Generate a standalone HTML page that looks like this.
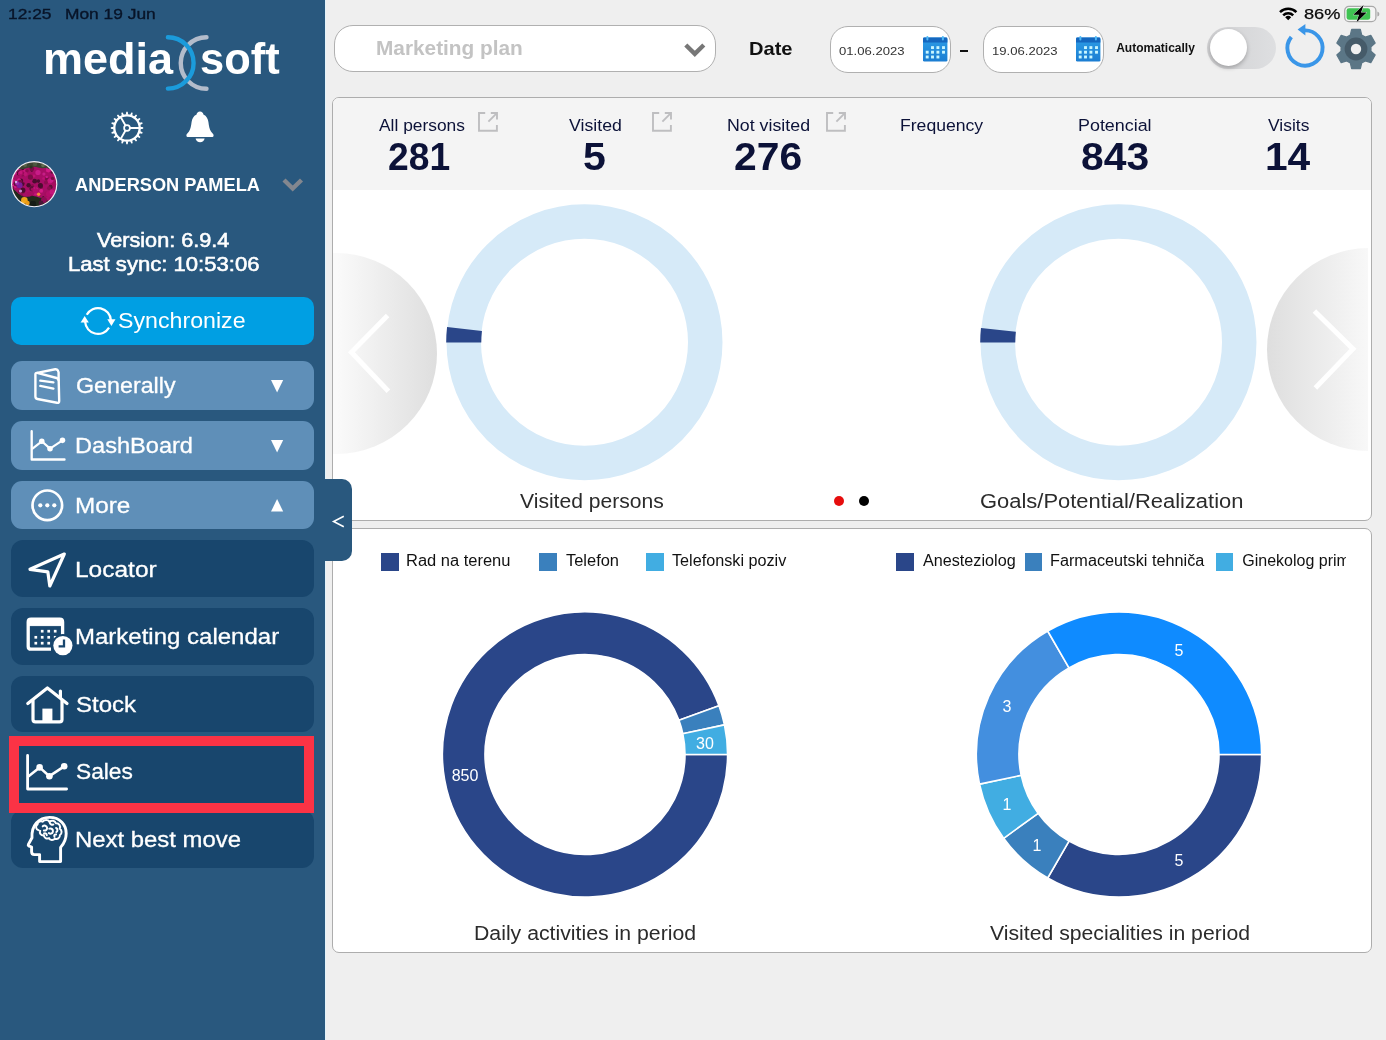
<!DOCTYPE html>
<html lang="en"><head><meta charset="utf-8"><title>mediasoft dashboard</title>
<style>
*{margin:0;padding:0;box-sizing:border-box}
html,body{width:1386px;height:1040px;overflow:hidden;background:#efefef;font-family:"Liberation Sans",sans-serif}
.t{position:absolute;white-space:nowrap;line-height:normal;display:block;transform-origin:0 0}
.b{position:absolute;display:block}
svg{position:absolute;overflow:visible}

</style></head>
<body>
<div class="b" style="left:0px;top:0px;width:325.0px;height:1040.0px;background:#29587e"></div>
<div class="b" style="left:325px;top:0px;width:1.3px;height:1040.0px;background:#e2f2fa"></div>
<span class="t" style="left:7.5px;top:5.2px;font-size:15px;color:#081428;transform:scaleX(1.157);-webkit-text-stroke:0.35px #081428;">12:25</span>
<span class="t" style="left:64.9px;top:5.2px;font-size:15px;color:#081428;transform:scaleX(1.157);-webkit-text-stroke:0.35px #081428;">Mon 19 Jun</span>
<span class="t" style="left:42.6px;top:34.0px;font-size:44px;color:#fff;font-weight:700;transform:scaleX(1.023);">media</span>
<span class="t" style="left:199.9px;top:34.0px;font-size:44px;color:#fff;font-weight:700;transform:scaleX(0.987);">soft</span>
<svg style="left:160px;top:30px" width="56" height="64" viewBox="0 0 56 64"><path d="M46.5 7.3 A25.7 25.7 0 0 0 46.5 58.8" fill="none" stroke="#b3bccb" stroke-width="4.4" stroke-linecap="round"/><path d="M7.9 7.2 A25.7 25.7 0 0 1 7.9 58.6" fill="none" stroke="#1b9bdb" stroke-width="4.4" stroke-linecap="round"/></svg>
<span class="t" style="left:74.5px;top:173.5px;font-size:19px;color:#fff;font-weight:700;transform:scaleX(0.959);">ANDERSON PAMELA</span>
<span class="t" style="left:96.6px;top:229.9px;font-size:19.3px;color:#fff;transform:scaleX(1.122);-webkit-text-stroke:0.55px #fff;">Version: 6.9.4</span>
<span class="t" style="left:68.4px;top:253.5px;font-size:19.3px;color:#fff;transform:scaleX(1.145);-webkit-text-stroke:0.55px #fff;">Last sync: 10:53:06</span>
<svg style="left:282px;top:178px" width="22" height="14" viewBox="0 0 22 14"><path d="M2 2 L10.7 10.5 L19.5 2" fill="none" stroke="#83878f" stroke-width="4.4" /></svg>
<div class="b" style="left:10.8px;top:296.5px;width:303.4px;height:48.7px;background:#009fe3;border-radius:10px"></div>
<span class="t" style="left:117.9px;top:307.7px;font-size:22px;color:#fff;transform:scaleX(1.054);">Synchronize</span>
<div class="b" style="left:11px;top:361.2px;width:303.0px;height:48.9px;background:#5f8fb8;border-radius:11px"></div>
<span class="t" style="left:75.5px;top:373.3px;font-size:22px;color:#fff;transform:scaleX(1.057);-webkit-text-stroke:0.3px #fff;">Generally</span>
<div class="b" style="left:11px;top:421px;width:303.0px;height:48.7px;background:#5f8fb8;border-radius:11px"></div>
<span class="t" style="left:74.8px;top:433.1px;font-size:22px;color:#fff;transform:scaleX(1.072);-webkit-text-stroke:0.3px #fff;">DashBoard</span>
<div class="b" style="left:11px;top:480.6px;width:303.0px;height:48.9px;background:#5f8fb8;border-radius:11px"></div>
<span class="t" style="left:74.8px;top:492.5px;font-size:22px;color:#fff;transform:scaleX(1.104);-webkit-text-stroke:0.3px #fff;">More</span>
<svg style="left:271.4px;top:380.3px" width="13" height="13" viewBox="0 0 13 13"><path d="M0 0 H12.2 L6.1 12.6 Z" fill="#fff"/></svg>
<svg style="left:271.4px;top:440.3px" width="13" height="13" viewBox="0 0 13 13"><path d="M0 0 H12.2 L6.1 12.6 Z" fill="#fff"/></svg>
<svg style="left:270.8px;top:498.8px" width="13" height="13" viewBox="0 0 13 13"><path d="M0 12.6 H12.2 L6.1 0 Z" fill="#fff"/></svg>
<div class="b" style="left:11px;top:540px;width:303.0px;height:57.0px;background:#18466d;border-radius:12px"></div>
<span class="t" style="left:74.8px;top:556.7px;font-size:22px;color:#fff;transform:scaleX(1.113);-webkit-text-stroke:0.3px #fff;">Locator</span>
<div class="b" style="left:11px;top:608px;width:303.0px;height:57.0px;background:#18466d;border-radius:12px"></div>
<span class="t" style="left:74.8px;top:624.0px;font-size:22px;color:#fff;transform:scaleX(1.091);-webkit-text-stroke:0.3px #fff;">Marketing calendar</span>
<div class="b" style="left:11px;top:675.7px;width:303.0px;height:56.7px;background:#18466d;border-radius:12px"></div>
<span class="t" style="left:75.6px;top:691.7px;font-size:22px;color:#fff;transform:scaleX(1.093);-webkit-text-stroke:0.3px #fff;">Stock</span>
<div class="b" style="left:11px;top:743px;width:303.0px;height:59.0px;background:#18466d;border-radius:12px"></div>
<span class="t" style="left:75.7px;top:758.7px;font-size:22px;color:#fff;transform:scaleX(1.033);-webkit-text-stroke:0.3px #fff;">Sales</span>
<div class="b" style="left:11px;top:810px;width:303.0px;height:57.6px;background:#18466d;border-radius:12px"></div>
<span class="t" style="left:74.8px;top:827.1px;font-size:22px;color:#fff;transform:scaleX(1.086);-webkit-text-stroke:0.3px #fff;">Next best move</span>
<div class="b" style="left:9px;top:736.2px;width:304.5px;height:76.8px;border:10.5px solid #fb3345;background:#18466d"></div>
<span class="t" style="left:75.7px;top:758.7px;font-size:22px;color:#fff;transform:scaleX(1.033);-webkit-text-stroke:0.3px #fff;">Sales</span>
<div class="b" style="left:334px;top:24.5px;width:382.0px;height:47.0px;background:#fff;border:1.8px solid #b0b0b0;border-radius:19px"></div>
<span class="t" style="left:376.0px;top:37.2px;font-size:19.5px;color:#c3c3c3;font-weight:700;transform:scaleX(1.067);">Marketing plan</span>
<svg style="left:683.6px;top:43.2px" width="22" height="14" viewBox="0 0 22 14"><path d="M1.8 2 L10.8 10.8 L19.8 2" fill="none" stroke="#777" stroke-width="4.4"/></svg>
<span class="t" style="left:749.4px;top:37.9px;font-size:19px;color:#111;font-weight:700;transform:scaleX(1.057);">Date</span>
<div class="b" style="left:829.5px;top:26px;width:121.7px;height:46.5px;background:#fff;border:1.8px solid #b0b0b0;border-radius:18px"></div>
<span class="t" style="left:839.1px;top:43.6px;font-size:11.6px;color:#333;transform:scaleX(1.129);">01.06.2023</span>
<div class="b" style="left:982.8px;top:26px;width:121.4px;height:46.5px;background:#fff;border:1.8px solid #b0b0b0;border-radius:18px"></div>
<span class="t" style="left:991.5px;top:43.6px;font-size:11.6px;color:#333;transform:scaleX(1.129);">19.06.2023</span>
<div class="b" style="left:959.8px;top:49.6px;width:8.4px;height:2.3px;background:#111"></div>
<span class="t" style="left:1116.2px;top:40.5px;font-size:12px;color:#111;font-weight:700;">Automatically</span>
<div class="b" style="left:1207.3px;top:26.8px;width:69.1px;height:41.8px;background:linear-gradient(90deg,#d0d0d2,#dedfe1);border-radius:21px"></div>
<div class="b" style="left:1209.5px;top:29px;width:37.0px;height:37.0px;background:#fff;border-radius:50%;box-shadow:0 2px 4px rgba(0,0,0,.25)"></div>
<span class="t" style="left:1303.5px;top:4.8px;font-size:15px;color:#0b0b0b;transform:scaleX(1.212);-webkit-text-stroke:0.25px #0b0b0b;">86%</span>
<div class="b" style="left:331.6px;top:96.6px;width:1040.6px;height:424.2px;background:#fff;border:1.5px solid #adadad;border-radius:7px;overflow:hidden"><div style="position:absolute;left:0;top:0;right:0;height:92.5px;background:#f4f4f4"></div></div>
<span class="t" style="left:379.0px;top:115.7px;font-size:16.8px;color:#0c1238;transform:scaleX(1.035);">All persons</span>
<span class="t" style="left:387.7px;top:135.1px;font-size:39px;color:#0c1238;font-weight:700;transform:scaleX(0.955);">281</span>
<span class="t" style="left:569.0px;top:115.7px;font-size:16.8px;color:#0c1238;transform:scaleX(1.055);">Visited</span>
<span class="t" style="left:583.0px;top:135.1px;font-size:39px;color:#0c1238;font-weight:700;transform:scaleX(1.053);">5</span>
<span class="t" style="left:726.9px;top:115.7px;font-size:16.8px;color:#0c1238;transform:scaleX(1.060);">Not visited</span>
<span class="t" style="left:734.3px;top:135.1px;font-size:39px;color:#0c1238;font-weight:700;transform:scaleX(1.047);">276</span>
<span class="t" style="left:899.7px;top:115.7px;font-size:16.8px;color:#0c1238;transform:scaleX(1.049);">Frequency</span>
<span class="t" style="left:1078.4px;top:115.7px;font-size:16.8px;color:#0c1238;transform:scaleX(1.066);">Potencial</span>
<span class="t" style="left:1081.0px;top:135.1px;font-size:39px;color:#0c1238;font-weight:700;transform:scaleX(1.047);">843</span>
<span class="t" style="left:1268.4px;top:115.7px;font-size:16.8px;color:#0c1238;transform:scaleX(1.040);">Visits</span>
<span class="t" style="left:1265.4px;top:135.1px;font-size:39px;color:#0c1238;font-weight:700;transform:scaleX(1.043);">14</span>
<span class="t" style="left:519.9px;top:489.6px;font-size:20px;color:#2b2b2b;transform:scaleX(1.055);">Visited persons</span>
<span class="t" style="left:980.2px;top:489.6px;font-size:20px;color:#2b2b2b;transform:scaleX(1.097);">Goals/Potential/Realization</span>
<div class="b" style="left:834px;top:496px;width:10.0px;height:10.0px;background:#e60d0d;border-radius:50%"></div>
<div class="b" style="left:859px;top:496px;width:10.0px;height:10.0px;background:#000;border-radius:50%"></div>
<div class="b" style="left:331.6px;top:528.3px;width:1040.6px;height:424.3px;background:#fff;border:1.5px solid #adadad;border-radius:7px"></div>
<div class="b" style="left:381px;top:553px;width:17.6px;height:17.6px;background:#2a4689"></div>
<span class="t" style="left:406.3px;top:551.5px;font-size:16px;color:#111;transform:scaleX(1.030);">Rad na terenu</span>
<div class="b" style="left:539.2px;top:553px;width:17.6px;height:17.6px;background:#3a80bd"></div>
<span class="t" style="left:565.6px;top:551.5px;font-size:16px;color:#111;transform:scaleX(1.027);">Telefon</span>
<div class="b" style="left:646px;top:553px;width:17.6px;height:17.6px;background:#41ade2"></div>
<span class="t" style="left:671.9px;top:551.5px;font-size:16px;color:#111;transform:scaleX(1.012);">Telefonski poziv</span>
<div class="b" style="left:896px;top:553px;width:17.6px;height:17.6px;background:#2a4689"></div>
<span class="t" style="left:922.9px;top:551.5px;font-size:16px;color:#111;transform:scaleX(1.011);">Anesteziolog</span>
<div class="b" style="left:1024.5px;top:553px;width:17.6px;height:17.6px;background:#3a80bd"></div>
<span class="t" style="left:1050.0px;top:551.5px;font-size:16px;color:#111;transform:scaleX(1.015);">Farmaceutski tehniča</span>
<div class="b" style="left:1215.5px;top:553px;width:17.6px;height:17.6px;background:#41ade2"></div>
<div class="b" style="left:1240px;top:545px;width:105.8px;height:30px;overflow:hidden"><span class="t" style="left:2.3px;top:6.5px;font-size:16px;color:#111">Ginekolog prim</span></div>
<span class="t" style="left:473.7px;top:922.2px;font-size:20px;color:#2b2b2b;transform:scaleX(1.063);">Daily activities in period</span>
<span class="t" style="left:989.5px;top:922.2px;font-size:20px;color:#2b2b2b;transform:scaleX(1.060);">Visited specialities in period</span>
<svg style="left:0;top:0" width="1386" height="1040" viewBox="0 0 1386 1040"><circle cx="584.5" cy="342.3" r="120.75" fill="none" stroke="#d6eaf8" stroke-width="34.5"/><path d="M446.20 342.50 A138.3 138.3 0 0 1 447.06 327.08 L481.94 331.00 A103.2 103.2 0 0 0 481.30 342.50 Z" fill="#2a4689"/><circle cx="1118.5" cy="342.3" r="120.75" fill="none" stroke="#d6eaf8" stroke-width="34.5"/><path d="M980.20 342.50 A138.3 138.3 0 0 1 980.96 328.04 L1015.87 331.71 A103.2 103.2 0 0 0 1015.30 342.50 Z" fill="#2a4689"/><path d="M727.60 754.50 A142.6 142.6 0 1 1 719.00 705.73 L678.97 720.30 A100 100 0 1 0 685.00 754.50 Z" fill="#2a4689" stroke="#fff" stroke-width="1.6" stroke-linejoin="round"/><path d="M719.00 705.73 A142.6 142.6 0 0 1 724.48 724.85 L682.81 733.71 A100 100 0 0 0 678.97 720.30 Z" fill="#3a80bd" stroke="#fff" stroke-width="1.6" stroke-linejoin="round"/><path d="M724.48 724.85 A142.6 142.6 0 0 1 727.60 754.50 L685.00 754.50 A100 100 0 0 0 682.81 733.71 Z" fill="#41ade2" stroke="#fff" stroke-width="1.6" stroke-linejoin="round"/><path d="M1261.60 754.50 A142.6 142.6 0 0 1 1047.70 878.00 L1069.00 841.10 A100 100 0 0 0 1219.00 754.50 Z" fill="#2a4689" stroke="#fff" stroke-width="1.6" stroke-linejoin="round"/><path d="M1047.70 878.00 A142.6 142.6 0 0 1 1003.63 838.32 L1038.10 813.28 A100 100 0 0 0 1069.00 841.10 Z" fill="#3a80bd" stroke="#fff" stroke-width="1.6" stroke-linejoin="round"/><path d="M1003.63 838.32 A142.6 142.6 0 0 1 979.52 784.15 L1021.19 775.29 A100 100 0 0 0 1038.10 813.28 Z" fill="#41ade2" stroke="#fff" stroke-width="1.6" stroke-linejoin="round"/><path d="M979.52 784.15 A142.6 142.6 0 0 1 1047.70 631.00 L1069.00 667.90 A100 100 0 0 0 1021.19 775.29 Z" fill="#438fdf" stroke="#fff" stroke-width="1.6" stroke-linejoin="round"/><path d="M1047.70 631.00 A142.6 142.6 0 0 1 1261.60 754.50 L1219.00 754.50 A100 100 0 0 0 1069.00 667.90 Z" fill="#0f8bff" stroke="#fff" stroke-width="1.6" stroke-linejoin="round"/><text x="465" y="781.2" text-anchor="middle" font-size="16" fill="#fff" font-family="Liberation Sans, sans-serif">850</text><text x="705" y="748.5" text-anchor="middle" font-size="16" fill="#fff" font-family="Liberation Sans, sans-serif">30</text><text x="1179" y="865.9" text-anchor="middle" font-size="16" fill="#fff" font-family="Liberation Sans, sans-serif">5</text><text x="1037" y="850.9" text-anchor="middle" font-size="16" fill="#fff" font-family="Liberation Sans, sans-serif">1</text><text x="1007" y="809.9" text-anchor="middle" font-size="16" fill="#fff" font-family="Liberation Sans, sans-serif">1</text><text x="1007" y="711.9" text-anchor="middle" font-size="16" fill="#fff" font-family="Liberation Sans, sans-serif">3</text><text x="1179" y="655.9" text-anchor="middle" font-size="16" fill="#fff" font-family="Liberation Sans, sans-serif">5</text></svg>
<div class="b" style="left:333px;top:190px;width:1035px;height:329px;overflow:hidden"><div class="b" style="left:-97.3px;top:62.6px;width:201.2px;height:201.2px;border-radius:50%;background:linear-gradient(90deg,#fafafa 50%,#dedede 100%)"></div><div class="b" style="left:933.9px;top:58px;width:203px;height:203px;border-radius:50%;background:linear-gradient(90deg,#dedede 0%,#f8f8f8 50%)"></div><svg style="left:0;top:0" width="1035" height="329"><path d="M54.6 125.6 L18.4 162.3 L55.4 201.3" fill="none" stroke="#fff" stroke-width="5"/><path d="M981.4 121 L1020 158.9 L982.4 198" fill="none" stroke="#fff" stroke-width="5"/></svg></div>
<div class="b" style="left:325px;top:479.2px;width:27.0px;height:81.6px;background:#29587e;border-radius:0 10px 10px 0"></div>
<svg style="left:332px;top:514.5px" width="13" height="13" viewBox="0 0 13 13"><path d="M11.8 1.2 L1.6 6.5 L11.8 11.8" fill="none" stroke="#fff" stroke-width="1.6"/></svg>
<svg style="left:107.2px;top:107.5px" width="40" height="40" viewBox="0 0 40 40"><path d="M33.15 18.80 L36.18 19.27 L36.18 20.73 L33.15 21.20 Z M32.87 22.92 L35.62 24.30 L35.16 25.70 L32.13 25.20 Z M31.34 26.76 L33.52 28.92 L32.66 30.11 L29.93 28.69 Z M28.69 29.93 L30.11 32.66 L28.92 33.52 L26.76 31.34 Z M25.20 32.13 L25.70 35.16 L24.30 35.62 L22.92 32.87 Z M21.20 33.15 L20.73 36.18 L19.27 36.18 L18.80 33.15 Z M17.08 32.87 L15.70 35.62 L14.30 35.16 L14.80 32.13 Z M13.24 31.34 L11.08 33.52 L9.89 32.66 L11.31 29.93 Z M10.07 28.69 L7.34 30.11 L6.48 28.92 L8.66 26.76 Z M7.87 25.20 L4.84 25.70 L4.38 24.30 L7.13 22.92 Z M6.85 21.20 L3.82 20.73 L3.82 19.27 L6.85 18.80 Z M7.13 17.08 L4.38 15.70 L4.84 14.30 L7.87 14.80 Z M8.66 13.24 L6.48 11.08 L7.34 9.89 L10.07 11.31 Z M11.31 10.07 L9.89 7.34 L11.08 6.48 L13.24 8.66 Z M14.80 7.87 L14.30 4.84 L15.70 4.38 L17.08 7.13 Z M18.80 6.85 L19.27 3.82 L20.73 3.82 L21.20 6.85 Z M22.92 7.13 L24.30 4.38 L25.70 4.84 L25.20 7.87 Z M26.76 8.66 L28.92 6.48 L30.11 7.34 L28.69 10.07 Z M29.93 11.31 L32.66 9.89 L33.52 11.08 L31.34 13.24 Z M32.13 14.80 L35.16 14.30 L35.62 15.70 L32.87 17.08 Z " fill="#fff"/><circle cx="20" cy="20" r="12.7" fill="none" stroke="#fff" stroke-width="2.3"/><circle cx="20" cy="20" r="2.9" fill="none" stroke="#fff" stroke-width="1.7"/><path d="M23.00 20.00 L32.00 20.00 M18.50 22.60 L14.00 30.39 M18.50 17.40 L14.00 9.61 " stroke="#fff" stroke-width="1.9" fill="none"/></svg>
<svg style="left:185.5px;top:111px" width="28" height="32" viewBox="0 0 28 32"><path d="M14 0.6 C16 0.6 17.2 2 17.4 3.4 C20.6 4.6 22 8 22.4 11 C22.9 15 23.4 18 25 20.6 C26 22.2 27.6 23 27.6 24.4 C27.6 25.4 26.8 26 25.8 26 H2.2 C1.2 26 0.4 25.4 0.4 24.4 C0.4 23 2 22.2 3 20.6 C4.6 18 5.1 15 5.6 11 C6 8 7.4 4.6 10.6 3.4 C10.8 2 12 0.6 14 0.6 Z" fill="#fff"/><path d="M9.6 27.5 H18.6 C18.2 29.8 16.4 31.3 14.1 31.3 C11.8 31.3 10 29.8 9.6 27.5 Z" fill="#fff"/></svg>
<svg style="left:10.75px;top:160.75px" width="46.4" height="46.4" viewBox="0 0 46.4 46.4"><defs><clipPath id="avc"><circle cx="23.2" cy="23.2" r="22"/></clipPath><filter id="avb" x="-10%" y="-10%" width="120%" height="120%"><feGaussianBlur stdDeviation="0.65"/></filter></defs><circle cx="23.2" cy="23.2" r="23.15" fill="#f3f0f6"/><g clip-path="url(#avc)"><g filter="url(#avb)"><rect x="-3" y="-3" width="52" height="52" fill="#a81066"/><circle cx="20.8" cy="25.5" r="2.6" fill="#b0106a"/><circle cx="20.8" cy="35.2" r="1.4" fill="#8c0c50"/><circle cx="21.9" cy="27.3" r="1.4" fill="#b0106a"/><circle cx="14.0" cy="10.0" r="2.4" fill="#c4147a"/><circle cx="27.4" cy="20.1" r="1.8" fill="#4a0a2e"/><circle cx="29.9" cy="27.6" r="2.4" fill="#a50e5f"/><circle cx="2.7" cy="13.3" r="1.5" fill="#c4147a"/><circle cx="35.8" cy="17.8" r="2.0" fill="#7a0b46"/><circle cx="23.9" cy="28.1" r="1.9" fill="#a50e5f"/><circle cx="21.0" cy="16.2" r="2.7" fill="#a50e5f"/><circle cx="32.6" cy="17.4" r="1.5" fill="#bb1272"/><circle cx="1.4" cy="25.6" r="1.3" fill="#a50e5f"/><circle cx="38.9" cy="19.8" r="2.6" fill="#c4147a"/><circle cx="9.8" cy="37.6" r="1.2" fill="#5e0a38"/><circle cx="45.1" cy="20.1" r="1.2" fill="#7a0b46"/><circle cx="35.8" cy="15.9" r="1.2" fill="#c81c88"/><circle cx="0.7" cy="20.5" r="2.6" fill="#d21a86"/><circle cx="11.3" cy="10.3" r="1.2" fill="#b0106a"/><circle cx="8.2" cy="25.5" r="1.8" fill="#7a0b46"/><circle cx="45.3" cy="32.4" r="1.8" fill="#5e0a38"/><circle cx="5.4" cy="20.9" r="1.4" fill="#bb1272"/><circle cx="39.8" cy="39.2" r="2.0" fill="#c4147a"/><circle cx="9.7" cy="20.0" r="2.5" fill="#4a0a2e"/><circle cx="4.6" cy="39.6" r="1.4" fill="#bb1272"/><circle cx="0.4" cy="27.1" r="2.4" fill="#5e0a38"/><circle cx="3.4" cy="10.0" r="2.0" fill="#7a0b46"/><circle cx="0.7" cy="19.2" r="2.1" fill="#d21a86"/><circle cx="44.1" cy="23.0" r="2.0" fill="#5e0a38"/><circle cx="8.4" cy="12.1" r="2.6" fill="#4a0a2e"/><circle cx="11.5" cy="13.3" r="2.3" fill="#8c0c50"/><circle cx="9.0" cy="38.4" r="2.5" fill="#4a0a2e"/><circle cx="3.6" cy="8.6" r="1.3" fill="#8c0c50"/><circle cx="44.3" cy="14.9" r="2.2" fill="#bb1272"/><circle cx="19.4" cy="36.9" r="1.9" fill="#8c0c50"/><circle cx="8.1" cy="30.8" r="1.2" fill="#7a0b46"/><circle cx="22.0" cy="28.6" r="2.1" fill="#a50e5f"/><circle cx="12.9" cy="37.3" r="1.4" fill="#c4147a"/><circle cx="3.2" cy="20.6" r="1.5" fill="#c4147a"/><circle cx="8.1" cy="19.2" r="2.0" fill="#d21a86"/><circle cx="4.2" cy="11.6" r="1.8" fill="#c81c88"/><circle cx="30.2" cy="29.8" r="2.0" fill="#d21a86"/><circle cx="27.1" cy="37.5" r="1.9" fill="#c81c88"/><circle cx="32.2" cy="38.8" r="1.1" fill="#a50e5f"/><circle cx="22.2" cy="31.1" r="1.6" fill="#a50e5f"/><circle cx="3.5" cy="25.0" r="2.3" fill="#d21a86"/><circle cx="36.5" cy="37.2" r="1.7" fill="#b0106a"/><circle cx="41.4" cy="35.7" r="1.8" fill="#c4147a"/><circle cx="39.7" cy="25.9" r="2.1" fill="#5e0a38"/><circle cx="17.4" cy="7.4" r="1.2" fill="#a50e5f"/><circle cx="29.4" cy="39.8" r="2.5" fill="#c81c88"/><circle cx="17.9" cy="31.3" r="2.0" fill="#b0106a"/><circle cx="21.3" cy="24.9" r="1.9" fill="#8c0c50"/><circle cx="1.4" cy="26.8" r="1.9" fill="#7a0b46"/><circle cx="44.0" cy="10.7" r="2.3" fill="#b0106a"/><circle cx="11.8" cy="7.4" r="1.6" fill="#4a0a2e"/><circle cx="9.3" cy="12.6" r="2.5" fill="#b0106a"/><circle cx="22.9" cy="15.0" r="1.7" fill="#bb1272"/><circle cx="9.1" cy="21.2" r="2.4" fill="#7a0b46"/><circle cx="40.5" cy="19.7" r="2.0" fill="#c81c88"/><circle cx="9.7" cy="11.4" r="1.7" fill="#c4147a"/><circle cx="32.7" cy="38.4" r="1.5" fill="#d21a86"/><circle cx="5.2" cy="22.6" r="2.6" fill="#5e0a38"/><circle cx="17.6" cy="24.2" r="2.2" fill="#4a0a2e"/><circle cx="20.8" cy="9.5" r="1.2" fill="#4a0a2e"/><circle cx="1.9" cy="30.4" r="2.0" fill="#bb1272"/><circle cx="29.9" cy="25.6" r="2.1" fill="#5e0a38"/><circle cx="20.9" cy="7.8" r="2.4" fill="#7a0b46"/><circle cx="35.8" cy="33.3" r="2.7" fill="#a50e5f"/><circle cx="20.5" cy="27.8" r="2.1" fill="#c81c88"/><circle cx="44.1" cy="29.6" r="1.4" fill="#b0106a"/><circle cx="11.8" cy="30.6" r="2.3" fill="#8c0c50"/><circle cx="32.9" cy="12.9" r="1.5" fill="#c81c88"/><circle cx="24.8" cy="38.2" r="1.9" fill="#d21a86"/><circle cx="18.1" cy="33.1" r="2.5" fill="#a50e5f"/><circle cx="18.9" cy="36.5" r="1.7" fill="#b0106a"/><circle cx="20.9" cy="27.6" r="2.6" fill="#5e0a38"/><circle cx="25.3" cy="28.5" r="1.9" fill="#c81c88"/><circle cx="21.3" cy="28.5" r="1.4" fill="#a50e5f"/><circle cx="9.8" cy="36.7" r="2.7" fill="#bb1272"/><circle cx="24.7" cy="33.1" r="1.6" fill="#c4147a"/><circle cx="16.0" cy="9.7" r="1.8" fill="#8c0c50"/><circle cx="19.4" cy="16.1" r="2.6" fill="#7a0b46"/><circle cx="37.2" cy="9.1" r="2.4" fill="#d21a86"/><circle cx="24.5" cy="29.7" r="2.6" fill="#b0106a"/><circle cx="6.8" cy="24.0" r="2.3" fill="#b0106a"/><circle cx="43.5" cy="23.3" r="2.6" fill="#a50e5f"/><circle cx="34.9" cy="21.5" r="2.0" fill="#8c0c50"/><circle cx="29.4" cy="24.3" r="2.4" fill="#8c0c50"/><circle cx="11.8" cy="29.2" r="2.6" fill="#4a0a2e"/><circle cx="9.6" cy="35.1" r="2.6" fill="#8c0c50"/><circle cx="12.6" cy="23.4" r="1.8" fill="#a50e5f"/><circle cx="23.1" cy="27.0" r="1.1" fill="#c4147a"/><circle cx="23.7" cy="20.2" r="2.4" fill="#4a0a2e"/><circle cx="5.6" cy="10.1" r="1.4" fill="#8c0c50"/><circle cx="21.1" cy="37.4" r="2.4" fill="#5e0a38"/><circle cx="12.4" cy="22.6" r="1.3" fill="#5e0a38"/><circle cx="41.4" cy="37.9" r="2.6" fill="#8c0c50"/><circle cx="14.6" cy="13.3" r="2.1" fill="#bb1272"/><circle cx="6.0" cy="32.7" r="1.1" fill="#7a0b46"/><circle cx="7.2" cy="7.4" r="1.6" fill="#c81c88"/><circle cx="11.2" cy="23.5" r="1.9" fill="#4a0a2e"/><circle cx="5.6" cy="23.8" r="1.5" fill="#7a0b46"/><circle cx="32.3" cy="36.0" r="1.1" fill="#5e0a38"/><circle cx="38.0" cy="27.3" r="2.0" fill="#8c0c50"/><circle cx="29.4" cy="24.5" r="2.5" fill="#4a0a2e"/><circle cx="27.0" cy="11.5" r="2.6" fill="#c81c88"/><circle cx="41.5" cy="17.4" r="1.6" fill="#7a0b46"/><circle cx="10.0" cy="39.9" r="2.5" fill="#d21a86"/><circle cx="40.9" cy="11.4" r="1.2" fill="#5e0a38"/><circle cx="4.5" cy="34.5" r="1.8" fill="#d21a86"/><path d="M-2 -2 H48 V7 C40 4 34 9 27 6.5 C20 4 14 9.5 8 8 C4 7 0 9 -2 10 Z" fill="#3a4330"/><circle cx="14" cy="4" r="2" fill="#59634a"/><circle cx="24" cy="3" r="2.2" fill="#4d5a40"/><circle cx="32" cy="4.5" r="1.8" fill="#626b52"/><circle cx="20" cy="6" r="1.5" fill="#2c3424"/><circle cx="38" cy="6" r="2" fill="#3d4632"/><path d="M-2 27 C4 27 6 33 11 35 C17 37.5 20 33.5 25 35.5 C30 37.5 33 36 35 38.5 C37 41 41 40 48 36 V48 H-2 Z" fill="#222a1d"/><circle cx="8.6" cy="24.2" r="3" fill="#7b1f9a"/><circle cx="6" cy="22" r="2" fill="#9a2fb0"/><circle cx="9.5" cy="30" r="1.6" fill="#c58ad0"/><circle cx="5" cy="21" r="1.2" fill="#d7a6e0"/><circle cx="13.4" cy="39.4" r="3.3" fill="#f0a51c"/><circle cx="16.5" cy="42" r="2.2" fill="#eb9a12"/><circle cx="11.5" cy="42" r="1.8" fill="#f4b42c"/><circle cx="27.6" cy="33.2" r="1.7" fill="#f58a3c"/><circle cx="33" cy="39" r="3" fill="#8c0f55"/><circle cx="30" cy="42" r="2.4" fill="#4a1736"/><circle cx="22" cy="43" r="3" fill="#141a12"/><circle cx="38" cy="33" r="3" fill="#b3116a"/><circle cx="41" cy="31" r="2.5" fill="#c4147a"/></g></g></svg>
<svg style="left:81.3px;top:304.4px" width="34" height="34" viewBox="0 0 34 34"><g fill="none" stroke="#fff" stroke-width="2.2"><path d="M5.72 10.75 A12.9 12.9 0 0 1 29.87 16.10"/><path d="M28.06 23.64 A12.9 12.9 0 0 1 4.13 17.90"/></g><path d="M26.3 15.3 H34.5 L30.4 22 Z" fill="#fff"/><path d="M-0.4 18.6 H7.8 L3.7 11.9 Z" fill="#fff"/></svg>
<svg style="left:33px;top:366.5px" width="28" height="39" viewBox="0 0 28 39"><g fill="none" stroke="#fff" stroke-width="2.4" stroke-linejoin="round" stroke-linecap="round"><path d="M4.2 5.9 L23.6 11 Q25.6 11.6 25.7 13.6 L26.2 34 Q26.2 36.2 24 35.8 L4.4 32 Q2.4 31.6 2.4 29.6 V7.6 Q2.4 5.6 4.2 5.9 Z"/><path d="M4.2 5.9 L22.2 2.2 Q24 2 24.8 3.4 L25.6 5.4 V13"/><path d="M7.3 13.6 L20.4 15.4"/><path d="M7.3 18.9 L20.4 21.6"/></g></svg>
<svg style="left:29.6px;top:430.4px" width="36" height="30.8" viewBox="0 0 42 36.6"><g fill="none" stroke="#fff" stroke-width="2.8" stroke-linecap="round" stroke-linejoin="round"><path d="M1.6 1.4 V35 H40.6"/><path d="M2.6 22.2 L13.6 13.4 L23.4 22.2 L38.2 12.3" stroke-width="2.6"/></g><circle cx="13.6" cy="13.4" r="3.3" fill="#fff"/><circle cx="23.4" cy="22.2" r="3.3" fill="#fff"/><circle cx="38.2" cy="12.3" r="3.3" fill="#fff"/></svg>
<svg style="left:26px;top:754.3px" width="42" height="36.6" viewBox="0 0 42 36.6"><g fill="none" stroke="#fff" stroke-width="2.8" stroke-linecap="round" stroke-linejoin="round"><path d="M1.6 1.4 V35 H40.6"/><path d="M2.6 22.2 L13.6 13.4 L23.4 22.2 L38.2 12.3" stroke-width="2.6"/></g><circle cx="13.6" cy="13.4" r="3.3" fill="#fff"/><circle cx="23.4" cy="22.2" r="3.3" fill="#fff"/><circle cx="38.2" cy="12.3" r="3.3" fill="#fff"/></svg>
<svg style="left:30px;top:487.5px" width="35" height="35" viewBox="0 0 35 35"><circle cx="17.3" cy="17.3" r="14.8" fill="none" stroke="#fff" stroke-width="2.7"/><circle cx="10.3" cy="17.3" r="2.1" fill="#fff"/><circle cx="17.3" cy="17.3" r="2.1" fill="#fff"/><circle cx="24.3" cy="17.3" r="2.1" fill="#fff"/></svg>
<svg style="left:27px;top:551px" width="40" height="38" viewBox="0 0 40 38"><path d="M37.3 3 L3 18.3 L20.8 20.8 L22.8 35 Z" fill="none" stroke="#fff" stroke-width="3.2" stroke-linejoin="round"/></svg>
<svg style="left:25.7px;top:617.4px" width="47" height="38" viewBox="0 0 47 38"><path d="M25 32.2 H5 Q2.2 32.2 2.2 29.4 V5 Q2.2 2.2 5 2.2 H33.8 Q36.6 2.2 36.6 5 V19" fill="none" stroke="#fff" stroke-width="3.3"/><path d="M2.2 8.6 V5 Q2.2 2.2 5 2.2 H33.8 Q36.6 2.2 36.6 5 V8.6 Z" fill="#fff" stroke="#fff" stroke-width="1"/><rect x="14.85" y="12.85" width="2.7" height="2.7" fill="#fff"/><rect x="21.35" y="12.85" width="2.7" height="2.7" fill="#fff"/><rect x="27.85" y="12.85" width="2.7" height="2.7" fill="#fff"/><rect x="8.45" y="18.95" width="2.7" height="2.7" fill="#fff"/><rect x="14.85" y="18.95" width="2.7" height="2.7" fill="#fff"/><rect x="21.35" y="18.95" width="2.7" height="2.7" fill="#fff"/><rect x="27.85" y="18.95" width="2.7" height="2.7" fill="#fff"/><rect x="8.45" y="24.85" width="2.7" height="2.7" fill="#fff"/><rect x="14.85" y="24.85" width="2.7" height="2.7" fill="#fff"/><rect x="21.35" y="24.85" width="2.7" height="2.7" fill="#fff"/><circle cx="36.9" cy="28.6" r="11.6" fill="#18466d"/><circle cx="36.9" cy="28.6" r="9.6" fill="#fff"/><path d="M38 22.6 V29.4 H32.6" fill="none" stroke="#18466d" stroke-width="2.3"/></svg>
<svg style="left:25.5px;top:685.5px" width="43" height="38" viewBox="0 0 43 38"><g fill="none" stroke="#fff" stroke-width="3.2" stroke-linejoin="round" stroke-linecap="round"><path d="M1.8 17.6 L21.4 2 L41 17.6"/><path d="M7 14.6 V33.4 Q7 35.8 9.4 35.8 H33.6 Q36 35.8 36 33.4 V14.6"/><path d="M34.4 5 V11.6"/></g><rect x="16.4" y="22.6" width="10" height="13.6" fill="#fff"/></svg>
<svg style="left:27.2px;top:815.6px" width="41" height="48" viewBox="0 0 41 48"><g fill="none" stroke="#fff" stroke-width="2.9" stroke-linejoin="round" stroke-linecap="round"><path d="M12.6 45.6 V38.6 H7.4 Q4.6 38.6 4.6 35.8 V31 L1.6 29.8 Q1 29.2 1.4 28.4 L5 21.8 C4.2 9.6 11.6 1.4 22.6 1.4 C33.2 1.4 39.2 9 39.2 17.4 C39.2 24.6 36 28.6 33.6 31.4 V45.6 Z"/></g><g fill="none" stroke="#fff" stroke-width="1.75" stroke-linecap="round" stroke-linejoin="round" transform="translate(21.6 13.8) scale(1.13 1.16) translate(-21.8 -13.6)"><path d="M13 14 C10.6 13.4 9.8 10.4 12 9 C12 6.6 14.6 5.4 16.6 6.6 C18 4.6 21.4 4.6 22.6 6.6 C24.6 5 27.6 5.8 28.2 8 C31 7.8 32.8 10.4 31.6 12.6 C33.8 13.8 33.8 17 31.8 18.2 C32 20.8 29.4 22.2 27.4 21.2 C26 23 23 22.8 22.2 20.8 C20 21.8 17.6 20.6 17.6 18.4 C15 18.6 13.4 16.4 14.4 14.6"/><path d="M16.6 10.6 C18 9.4 20 10 20.4 11.6 C20.8 13.4 19.2 14.6 17.6 14.2"/><path d="M22.6 6.6 C22.8 9 24.8 9.8 26 9"/><path d="M22.4 12.6 C24.4 12 26 13.4 25.6 15.2 C25.2 17 23.2 17.4 22 16.4"/><path d="M28.4 12 C30 12.6 30 14.8 28.6 15.6 M28.4 17.6 C27 17.4 26.4 18.6 27 19.6"/><path d="M17.8 16.8 C19 16.2 20.2 17 20.2 18.2"/></g></svg>
<svg style="left:478.2px;top:112.4px" width="20" height="20" viewBox="0 0 20 20"><g fill="none" stroke="#bebec0" stroke-width="1.9"><path d="M7.2 1 H1 V18.8 H18.9 V13"/><path d="M10.4 9.6 L18.6 1.4"/><path d="M12.8 1 H19 V7.4"/></g></svg>
<svg style="left:652px;top:112.4px" width="20" height="20" viewBox="0 0 20 20"><g fill="none" stroke="#bebec0" stroke-width="1.9"><path d="M7.2 1 H1 V18.8 H18.9 V13"/><path d="M10.4 9.6 L18.6 1.4"/><path d="M12.8 1 H19 V7.4"/></g></svg>
<svg style="left:825.9px;top:112.4px" width="20" height="20" viewBox="0 0 20 20"><g fill="none" stroke="#bebec0" stroke-width="1.9"><path d="M7.2 1 H1 V18.8 H18.9 V13"/><path d="M10.4 9.6 L18.6 1.4"/><path d="M12.8 1 H19 V7.4"/></g></svg>
<svg style="left:923.1px;top:36.4px" width="25" height="26" viewBox="0 0 25 26"><defs><linearGradient id="cg1" x1="0" y1="0" x2="0" y2="1"><stop offset="0" stop-color="#2d9de6"/><stop offset="1" stop-color="#1b7dd2"/></linearGradient></defs><rect x="0" y="1.6" width="24.4" height="24" rx="1.4" fill="url(#cg1)"/><path d="M0 6.6 V3 Q0 1.6 1.4 1.6 H23 Q24.4 1.6 24.4 3 V6.6 Z" fill="#1567bf"/><rect x="3.4" y="0" width="2" height="4.6" rx="1" fill="#4fbaf6"/><rect x="18.9" y="0" width="2" height="4.6" rx="1" fill="#4fbaf6"/><rect x="8.05" y="10.15" width="2.9" height="2.9" fill="#c9f6ff"/><rect x="13.45" y="10.15" width="2.9" height="2.9" fill="#c9f6ff"/><rect x="19.05" y="10.15" width="2.9" height="2.9" fill="#c9f6ff"/><rect x="2.75" y="14.75" width="2.9" height="2.9" fill="#c9f6ff"/><rect x="8.05" y="14.75" width="2.9" height="2.9" fill="#c9f6ff"/><rect x="13.45" y="14.75" width="2.9" height="2.9" fill="#c9f6ff"/><rect x="19.05" y="14.75" width="2.9" height="2.9" fill="#c9f6ff"/><rect x="2.75" y="19.55" width="2.9" height="2.9" fill="#c9f6ff"/><rect x="8.05" y="19.55" width="2.9" height="2.9" fill="#c9f6ff"/><rect x="13.45" y="19.55" width="2.9" height="2.9" fill="#c9f6ff"/></svg>
<svg style="left:1076.1px;top:36.4px" width="25" height="26" viewBox="0 0 25 26"><defs><linearGradient id="cg2" x1="0" y1="0" x2="0" y2="1"><stop offset="0" stop-color="#2d9de6"/><stop offset="1" stop-color="#1b7dd2"/></linearGradient></defs><rect x="0" y="1.6" width="24.4" height="24" rx="1.4" fill="url(#cg2)"/><path d="M0 6.6 V3 Q0 1.6 1.4 1.6 H23 Q24.4 1.6 24.4 3 V6.6 Z" fill="#1567bf"/><rect x="3.4" y="0" width="2" height="4.6" rx="1" fill="#4fbaf6"/><rect x="18.9" y="0" width="2" height="4.6" rx="1" fill="#4fbaf6"/><rect x="8.05" y="10.15" width="2.9" height="2.9" fill="#c9f6ff"/><rect x="13.45" y="10.15" width="2.9" height="2.9" fill="#c9f6ff"/><rect x="19.05" y="10.15" width="2.9" height="2.9" fill="#c9f6ff"/><rect x="2.75" y="14.75" width="2.9" height="2.9" fill="#c9f6ff"/><rect x="8.05" y="14.75" width="2.9" height="2.9" fill="#c9f6ff"/><rect x="13.45" y="14.75" width="2.9" height="2.9" fill="#c9f6ff"/><rect x="19.05" y="14.75" width="2.9" height="2.9" fill="#c9f6ff"/><rect x="2.75" y="19.55" width="2.9" height="2.9" fill="#c9f6ff"/><rect x="8.05" y="19.55" width="2.9" height="2.9" fill="#c9f6ff"/><rect x="13.45" y="19.55" width="2.9" height="2.9" fill="#c9f6ff"/></svg>
<svg style="left:1282.9px;top:26.1px" width="44" height="44" viewBox="0 0 44 44"><path d="M21.08 4.42 A17.6 17.6 0 1 1 8.32 10.92" fill="none" stroke="#3a96e8" stroke-width="3.9"/><path d="M14.6 3.6 L22.4 -2 V9.6 Z" fill="#3a96e8"/></svg>
<svg style="left:1332.2px;top:25.3px" width="48" height="48" viewBox="0 0 48 48"><path d="M18.34 10.00 L19.65 4.38 L28.35 4.38 L29.66 10.00 L33.30 12.10 L38.82 10.42 L43.17 17.96 L38.95 21.90 L38.95 26.10 L43.17 30.04 L38.82 37.58 L33.30 35.90 L29.66 38.00 L28.35 43.62 L19.65 43.62 L18.34 38.00 L14.70 35.90 L9.18 37.58 L4.83 30.04 L9.05 26.10 L9.05 21.90 L4.83 17.96 L9.18 10.42 L14.70 12.10 Z" fill="#5b7686" stroke="#5b7686" stroke-width="1.2" stroke-linejoin="round"/><circle cx="24" cy="24" r="11.4" fill="#465b69"/><circle cx="24" cy="24" r="5.2" fill="#f0f0f0"/></svg>
<svg style="left:1279.4px;top:7px" width="18.4" height="13.4" viewBox="0 0 18.4 13.4"><g fill="none" stroke="#000" stroke-width="2.5" stroke-linecap="butt"><path d="M1.0 5.2 A11.6 11.6 0 0 1 17.4 5.2"/><path d="M4.2 8.4 A7.1 7.1 0 0 1 14.2 8.4"/></g><path d="M9.2 13.2 L6.2 10.2 A4.3 4.3 0 0 1 12.2 10.2 Z" fill="#000"/></svg>
<svg style="left:1343.5px;top:5px" width="36" height="18" viewBox="0 0 36 18"><rect x="0.7" y="1.4" width="31.2" height="15.2" rx="4.2" fill="#f4f4f4" stroke="#a9a9a9" stroke-width="1.3"/><rect x="2.6" y="3.2" width="23.6" height="11.6" rx="2.4" fill="#3fc352"/><path d="M33.4 6.4 Q35.4 7 35.4 9 Q35.4 11 33.4 11.6 Z" fill="#a9a9a9"/><path d="M19.6 0 L9.2 9.8 H15 L12.4 17.6 L22.6 7.6 H17 Z" fill="#000" stroke="#f4f4f4" stroke-width="0.8" paint-order="stroke"/></svg>
</body></html>
